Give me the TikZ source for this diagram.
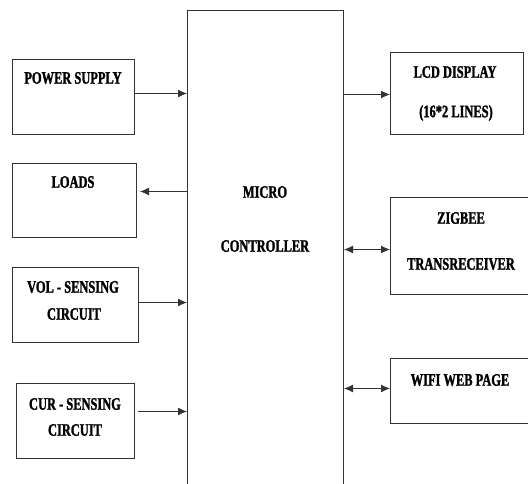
\documentclass[tikz,border=0pt]{standalone}
\usepackage{fontspec}
\setmainfont[FakeStretch=0.71,FakeBold=1.5]{Liberation Serif}
\usetikzlibrary{arrows.meta}
\begin{document}
\begin{tikzpicture}[x=1pt,y=-1pt,
  box/.style={draw=black!80,line width=1pt,minimum width=#1,anchor=north west,inner sep=0pt},
  txt/.style={font=\fontsize{17.5}{20}\selectfont\bfseries,inner sep=0pt},
  arr/.style={draw=black!80,line width=1pt,-{Latex[length=9pt,width=8pt]}},
  darr/.style={draw=black!80,line width=1pt,{Latex[length=9pt,width=8pt]}-{Latex[length=9pt,width=8pt]}}]
\useasboundingbox (0,0) rectangle (528,483);
\clip (0,0) rectangle (528,483);
% boxes
\node[box=156pt,minimum height=495pt] (mc) at (187,10) {};
\node[box=122pt,minimum height=75pt] (ps) at (12,59) {};
\node[box=124pt,minimum height=74pt] (ld) at (12,163) {};
\node[box=126pt,minimum height=75pt] (vs) at (12,267) {};
\node[box=118pt,minimum height=75pt] (cs) at (16,383) {};
\node[box=133pt,minimum height=82pt] (lcd) at (390,52) {};
\node[box=150pt,minimum height=97pt] (zb) at (390,197) {};
\node[box=150pt,minimum height=65pt] (wf) at (390,358) {};
% texts
\node[txt] (pst) at (73,78) {POWER SUPPLY};
\node[txt] (ldt) at (73,182) {LOADS};
\node[txt] (vst1) at (73,287) {VOL - SENSING};
\node[txt] (vst2) at (74,314) {CIRCUIT};
\node[txt] (cst1) at (75,404) {CUR - SENSING};
\node[txt] (cst2) at (75,430) {CIRCUIT};
\node[txt] (mct1) at (265,192) {MICRO};
\node[txt] (mct2) at (265,246) {CONTROLLER};
\node[txt] (lcdt1) at (455,72) {LCD DISPLAY};
\node[txt] (lcdt2) at (456,113) {(16*2 LINES)};
\node[txt] (zbt1) at (461,218) {ZIGBEE};
\node[txt] (zbt2) at (461,264) {TRANSRECEIVER};
\node[txt] (wft) at (460,380) {WIFI WEB PAGE};
% connectors
\draw[arr] ([yshift=3.5pt]ps.east) -- ([yshift=3.5pt]ps.east -| mc.west);
\draw[arr] ([yshift=9pt]ld.east -| mc.west) -- ([xshift=3pt,yshift=9pt]ld.east);
\draw[arr] ([yshift=2.5pt]vs.east) -- ([yshift=2.5pt]vs.east -| mc.west);
\draw[arr] ([xshift=3pt,yshift=9.5pt]cs.east) -- ([yshift=9.5pt]cs.east -| mc.west);
\draw[arr] ([yshift=-1pt]lcd.west -| mc.east) -- ([yshift=-1pt]lcd.west);
\draw[darr] ([yshift=-3.5pt]zb.west -| mc.east) -- ([yshift=-3.5pt]zb.west);
\draw[darr] ([yshift=2.5pt]wf.west -| mc.east) -- ([yshift=2.5pt]wf.west);
\end{tikzpicture}
\end{document}
